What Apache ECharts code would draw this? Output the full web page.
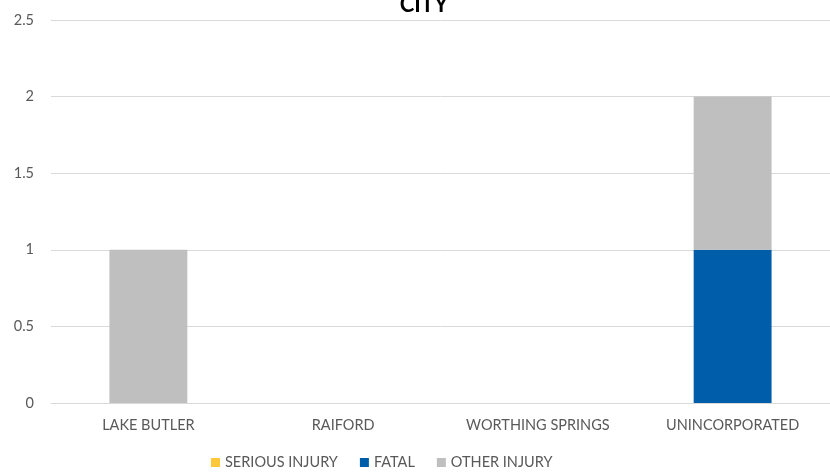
<!DOCTYPE html>
<html><head><meta charset="utf-8">
<script src="https://cdn.jsdelivr.net/npm/echarts@6/dist/echarts.min.js"></script>
<style>html,body{margin:0;padding:0;background:#fff}#c{width:830px;height:472px}</style>
</head><body><div id="c"></div>
<script>
const categories = ["LAKE BUTLER", "RAIFORD", "WORTHING SPRINGS", "UNINCORPORATED"];
const seriousInjury = [0, 0, 0, 0];
const fatal = [0, 0, 0, 1];
const otherInjury = [1, 0, 0, 1];
const yTicks = {min: 0, max: 2.5, interval: 0.5};

const FONT = "Lato, 'Open Sans', sans-serif";
const chart = echarts.init(document.getElementById('c'), null, {renderer: 'canvas'});
chart.setOption({
  animation: false,
  title: {text: 'CITY', left: 419, textAlign: 'center', top: -11, textStyle: {fontFamily: FONT, fontSize: 22, fontWeight: 'bold', color: '#000'}},
  grid: {left: 51, right: -4, top: 20, bottom: 69, containLabel: false},
  legend: {
    bottom: -3, left: 206, itemWidth: 9, itemHeight: 9, itemGap: 22, icon: 'rect',
    textStyle: {fontFamily: FONT, fontSize: 14.5, color: '#595959'},
    data: ['SERIOUS INJURY', 'FATAL', 'OTHER INJURY']
  },
  xAxis: {
    type: 'category', data: categories,
    axisLine: {lineStyle: {color: '#D9D9D9'}}, axisTick: {show: false},
    axisLabel: {fontFamily: FONT, fontSize: 14.5, color: '#595959', margin: 15}
  },
  yAxis: {
    type: 'value', min: yTicks.min, max: yTicks.max, interval: yTicks.interval,
    axisLine: {show: false}, axisTick: {show: false},
    axisLabel: {fontFamily: FONT, fontSize: 14.5, color: '#595959', margin: 17},
    splitLine: {lineStyle: {color: '#D9D9D9'}}
  },
  series: [
    {name: 'SERIOUS INJURY', type: 'bar', stack: 's', data: seriousInjury, barWidth: '40%', itemStyle: {color: '#FFC83A'}},
    {name: 'FATAL', type: 'bar', stack: 's', data: fatal, barWidth: '40%', itemStyle: {color: '#005DA9'}},
    {name: 'OTHER INJURY', type: 'bar', stack: 's', data: otherInjury, barWidth: '40%', itemStyle: {color: '#BFBFBF'}}
  ]
});
</script></body></html>
